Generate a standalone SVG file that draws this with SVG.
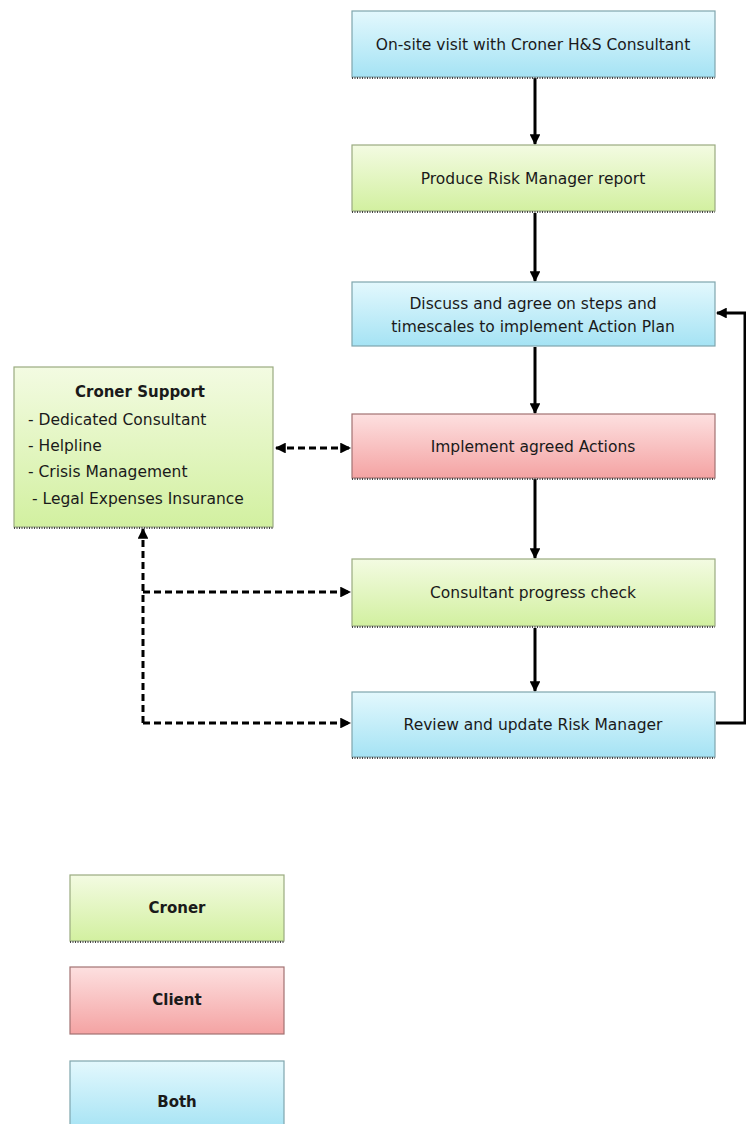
<svg xmlns="http://www.w3.org/2000/svg" width="746" height="1124" viewBox="0 0 746 1124">
<defs>
<linearGradient id="gBlue" x1="0" y1="0" x2="0" y2="1"><stop offset="0" stop-color="#e3f8fd"/><stop offset="1" stop-color="#a5e3f4"/></linearGradient>
<linearGradient id="gGreen" x1="0" y1="0" x2="0" y2="1"><stop offset="0" stop-color="#f3fbe2"/><stop offset="1" stop-color="#d2f0a0"/></linearGradient>
<linearGradient id="gRed" x1="0" y1="0" x2="0" y2="1"><stop offset="0" stop-color="#fde0e0"/><stop offset="1" stop-color="#f4a3a3"/></linearGradient>
<marker id="ah" viewBox="0 0 10 10" refX="9" refY="5" markerWidth="3.6" markerHeight="3.6" orient="auto-start-reverse"><path d="M0,0 L10,5 L0,10 z" fill="#000"/></marker>
</defs>
<style>
.blue{fill:url(#gBlue);stroke:#7fa6ad;stroke-width:1.2}
.green{fill:url(#gGreen);stroke:#9aab80;stroke-width:1.2}
.red{fill:url(#gRed);stroke:#a27272;stroke-width:1.2}
.dots{stroke:#444;stroke-width:2;stroke-dasharray:1,1.5;fill:none}
.t{font-family:"DejaVu Sans",Verdana,sans-serif;font-size:15.5px;fill:#1a1a1a;text-anchor:middle}
.tl{font-family:"DejaVu Sans",Verdana,sans-serif;font-size:15.5px;fill:#1a1a1a}
.b{font-weight:bold;font-size:15px}
.solid{stroke:#000;stroke-width:3;fill:none}
.dash{stroke:#000;stroke-width:3;fill:none;stroke-dasharray:7,4}
</style>
<rect width="746" height="1124" fill="#fff"/>
<g id="connectors">
<line class="solid" x1="535" y1="78" x2="535" y2="144" marker-end="url(#ah)"/>
<line class="solid" x1="535" y1="213" x2="535" y2="281" marker-end="url(#ah)"/>
<line class="solid" x1="535" y1="347" x2="535" y2="413" marker-end="url(#ah)"/>
<line class="solid" x1="535" y1="479" x2="535" y2="558" marker-end="url(#ah)"/>
<line class="solid" x1="535" y1="628" x2="535" y2="691" marker-end="url(#ah)"/>
<polyline class="solid" points="716,723 745,723 745,313 717,313" marker-end="url(#ah)"/>
<line class="dash" x1="276" y1="448" x2="350" y2="448" marker-start="url(#ah)" marker-end="url(#ah)"/>
<line class="dash" x1="143" y1="529" x2="143" y2="723" marker-start="url(#ah)"/>
<line class="dash" x1="143" y1="592" x2="350" y2="592" marker-end="url(#ah)"/>
<line class="dash" x1="143" y1="723" x2="350" y2="723" marker-end="url(#ah)"/>
</g>
<g id="n1">
<rect class="blue" x="352" y="11" width="363" height="66"/>
<line class="dots" x1="352" y1="78" x2="715" y2="78"/>
<text class="t" x="533" y="50">On-site visit with Croner H&amp;S Consultant</text>
</g>
<g id="n2">
<rect class="green" x="352" y="145" width="363" height="66"/>
<line class="dots" x1="352" y1="212" x2="715" y2="212"/>
<text class="t" x="533" y="184">Produce Risk Manager report</text>
</g>
<g id="n3">
<rect class="blue" x="352" y="282" width="363" height="64"/>
<text class="t" x="533" y="309">Discuss and agree on steps and</text>
<text class="t" x="533" y="332">timescales to implement Action Plan</text>
</g>
<g id="n4">
<rect class="red" x="352" y="414" width="363" height="64"/>
<line class="dots" x1="352" y1="479" x2="715" y2="479"/>
<text class="t" x="533" y="452">Implement agreed Actions</text>
</g>
<g id="n5">
<rect class="green" x="352" y="559" width="363" height="67"/>
<line class="dots" x1="352" y1="627" x2="715" y2="627"/>
<text class="t" x="533" y="598">Consultant progress check</text>
</g>
<g id="n6">
<rect class="blue" x="352" y="692" width="363" height="65"/>
<line class="dots" x1="352" y1="758" x2="715" y2="758"/>
<text class="t" x="533" y="730">Review and update Risk Manager</text>
</g>
<g id="support">
<rect class="green" x="14" y="367" width="259" height="160"/>
<line class="dots" x1="14" y1="528" x2="273" y2="528"/>
<text class="t b" x="140" y="397">Croner Support</text>
<text class="tl" x="28" y="425">- Dedicated Consultant</text>
<text class="tl" x="28" y="451">- Helpline</text>
<text class="tl" x="28" y="477">- Crisis Management</text>
<text class="tl" x="32" y="504">- Legal Expenses Insurance</text>
</g>
<g id="legend-croner">
<rect class="green" x="70" y="875" width="214" height="66"/>
<line class="dots" x1="70" y1="942" x2="284" y2="942"/>
<text class="t b" x="177" y="913">Croner</text>
</g>
<g id="legend-client">
<rect class="red" x="70" y="967" width="214" height="67"/>
<text class="t b" x="177" y="1005">Client</text>
</g>
<g id="legend-both">
<rect class="blue" x="70" y="1061" width="214" height="70"/>
<text class="t b" x="177" y="1107">Both</text>
</g>
</svg>
